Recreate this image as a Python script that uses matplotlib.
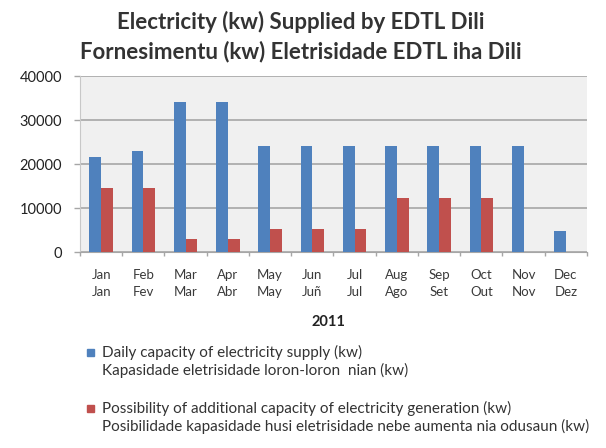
import numpy as np
import matplotlib
matplotlib.use('Agg')
import matplotlib.pyplot as plt
from matplotlib.patches import Rectangle

plt.rcParams['font.family'] = ['Lato', 'DejaVu Sans']

# data
months_en = ['Jan', 'Feb', 'Mar', 'Apr', 'May', 'Jun', 'Jul', 'Aug', 'Sep', 'Oct', 'Nov', 'Dec']
months_tet = ['Jan', 'Fev', 'Mar', 'Abr', 'May', 'Juñ', 'Jul', 'Ago', 'Set', 'Out', 'Nov', 'Dez']
daily_supply = [21600, 23000, 34000, 34000, 24000, 24000, 24000, 24000, 24000, 24000, 24000, 4700]
additional = [14500, 14500, 2900, 2900, 5300, 5300, 5300, 12300, 12300, 12300, 0, 0]

label_blue = ['Daily capacity of electricity supply (kw)',
              'Kapasidade eletrisidade loron-loron  nian (kw)']
label_red = ['Possibility of additional capacity of electricity generation (kw)',
             'Posibilidade kapasidade husi eletrisidade nebe aumenta nia odusaun (kw)']

blue = '#4F81BD'
red = '#C0504D'
W, H = 606, 448

fig = plt.figure(figsize=(W / 100, H / 100), dpi=100)
ax = fig.add_axes([80 / W, 1 - 252 / H, 507 / W, 176 / H])
ax.set_facecolor('#f0f0f0')

x = np.arange(len(months_en))
w = 0.28
ax.bar(x - w / 2, daily_supply, w, color=blue, zorder=3)
ax.bar(x + w / 2, additional, w, color=red, zorder=3)

ax.set_xlim(-0.5, len(months_en) - 0.5)
ax.set_ylim(0, 40000)
ax.set_yticks([0, 10000, 20000, 30000, 40000])
ax.tick_params(axis='y', length=4, width=1, color='#a6a6a6', labelsize=10.5,
               labelcolor='#222222', pad=9)
ax.grid(axis='y', color='#a6a6a6', linewidth=1.2, zorder=1)

# ticks between categories, two-line month labels under each
ax.set_xticks(np.arange(len(months_en) + 1) - 0.5)
ax.set_xticklabels([])
ax.tick_params(axis='x', length=3, width=1, color='#a6a6a6')
for i in range(len(months_en)):
    ax.text(i, -3800, months_en[i] + '\n' + months_tet[i], ha='center', va='top',
            fontsize=9.5, color='#3a3a3a', linespacing=1.55)

for s in ['top', 'right']:
    ax.spines[s].set_visible(False)
ax.spines['left'].set_color('#c8c8c8')
ax.spines['bottom'].set_color('#a6a6a6')

fig.text(301 / W, 1 - 22 / H, 'Electricity (kw) Supplied by EDTL Dili', ha='center', va='center',
         fontsize=16, fontweight='bold', color='#333333')
fig.text(301 / W, 1 - 52 / H, 'Fornesimentu (kw) Eletrisidade EDTL iha Dili', ha='center', va='center',
         fontsize=16, fontweight='bold', color='#333333')
fig.text(328 / W, 1 - 322 / H, '2011', ha='center', va='center',
         fontsize=10.5, fontweight='bold', color='#222222')

# legend drawn by hand: square marker beside the first line of each entry
for color, lines, y0 in [(blue, label_blue, 352), (red, label_red, 408)]:
    fig.patches.append(Rectangle((87 / W, 1 - (y0 + 3.5) / H), 7 / W, 7 / H,
                                 color=color, transform=fig.transFigure))
    for k, line in enumerate(lines):
        fig.text(102 / W, 1 - (y0 + 18.5 * k) / H, line, ha='left', va='center',
                 fontsize=11, color='#333333')

fig.savefig('out.png', dpi=100)
